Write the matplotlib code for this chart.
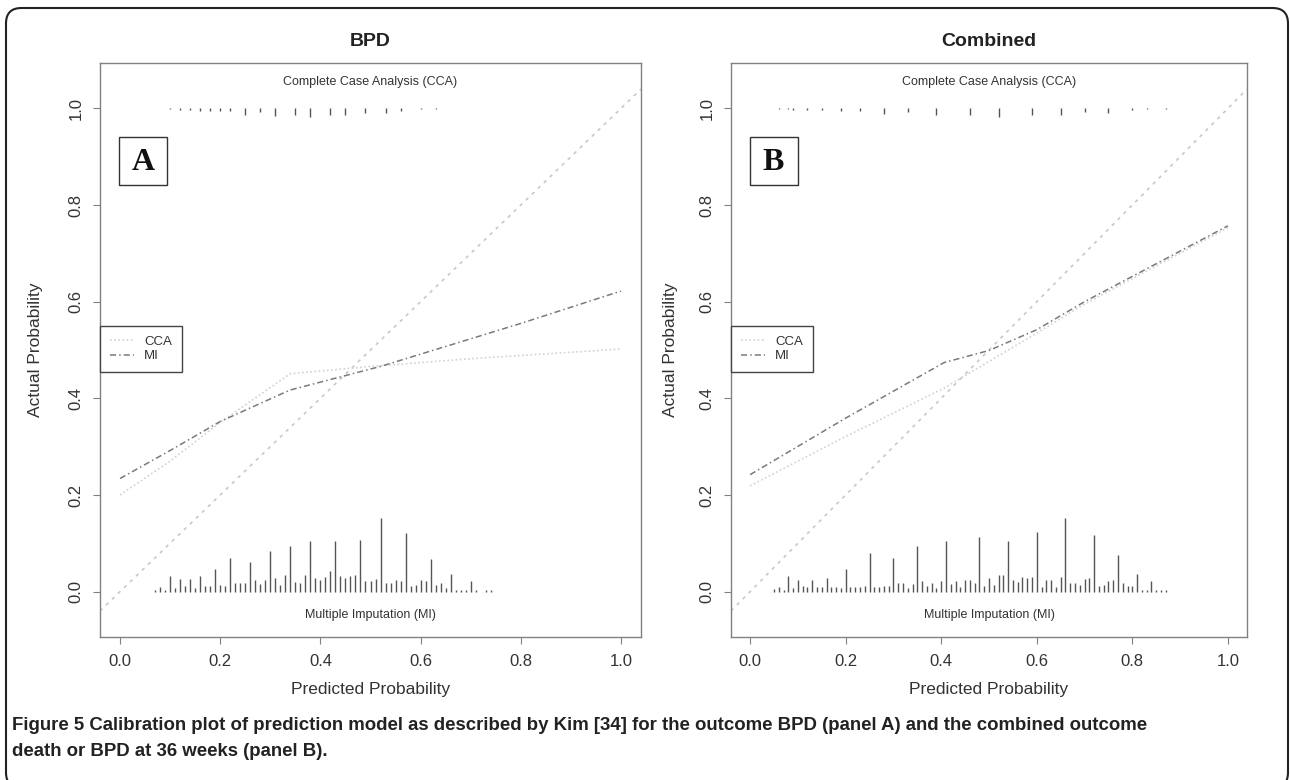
import matplotlib as mpl
import matplotlib.pyplot as plt
from matplotlib.font_manager import fontManager
from matplotlib.patches import FancyBboxPatch, Rectangle

installed = {f.name for f in fontManager.ttflist}
SANS = "Liberation Sans" if "Liberation Sans" in installed else "DejaVu Sans"
SERIF = "Liberation Serif" if "Liberation Serif" in installed else "DejaVu Serif"

mpl.rcParams.update(
    {
        "font.family": [SANS, "DejaVu Sans"],
        "axes.edgecolor": "#808080",
        "axes.linewidth": 1.0,
        "xtick.color": "#808080",
        "ytick.color": "#808080",
        "xtick.labelcolor": "#333333",
        "ytick.labelcolor": "#333333",
        "xtick.major.size": 5,
        "ytick.major.size": 5,
        "xtick.major.pad": 7,
        "ytick.major.pad": 7,
        "xtick.labelsize": 12,
        "ytick.labelsize": 12,
    }
)

# ---- panel A (BPD) ----
a_cca_x = [0.0, 0.10, 0.20, 0.34, 0.50, 0.70, 1.0]
a_cca_y = [0.200, 0.270, 0.350, 0.451, 0.466, 0.482, 0.502]
a_mi_x = [0.0, 0.10, 0.20, 0.339, 0.52, 0.80, 1.0]
a_mi_y = [0.234, 0.292, 0.352, 0.417, 0.466, 0.555, 0.622]

a_mi_spike_x = [0.07, 0.08, 0.09, 0.10, 0.11, 0.12, 0.13, 0.14, 0.15, 0.16,
                0.17, 0.18, 0.19, 0.20, 0.21, 0.22, 0.23, 0.24, 0.25, 0.26,
                0.27, 0.28, 0.29, 0.30, 0.31, 0.32, 0.33, 0.34, 0.35, 0.36,
                0.37, 0.38, 0.39, 0.40, 0.41, 0.42, 0.43, 0.44, 0.45, 0.46,
                0.47, 0.48, 0.49, 0.50, 0.51, 0.52, 0.53, 0.54, 0.55, 0.56,
                0.57, 0.58, 0.59, 0.60, 0.61, 0.62, 0.63, 0.64, 0.65, 0.66,
                0.67, 0.68, 0.69, 0.70, 0.71, 0.73, 0.74]
a_mi_spike_h = [0.004, 0.010, 0.004, 0.033, 0.007, 0.027, 0.011, 0.027, 0.007, 0.033,
                0.011, 0.011, 0.047, 0.014, 0.012, 0.070, 0.017, 0.018, 0.018, 0.062,
                0.023, 0.015, 0.025, 0.083, 0.029, 0.014, 0.034, 0.094, 0.019, 0.018,
                0.034, 0.105, 0.028, 0.023, 0.030, 0.042, 0.105, 0.032, 0.029, 0.033,
                0.034, 0.106, 0.022, 0.022, 0.026, 0.152, 0.017, 0.017, 0.023, 0.022,
                0.121, 0.011, 0.014, 0.023, 0.021, 0.068, 0.014, 0.017, 0.007, 0.037,
                0.004, 0.004, 0.004, 0.021, 0.004, 0.003, 0.003]

a_cca_spike_x = [0.10, 0.12, 0.14, 0.16, 0.18, 0.20, 0.22, 0.25, 0.28, 0.31,
                 0.35, 0.38, 0.42, 0.45, 0.49, 0.53, 0.56, 0.60, 0.63]
a_cca_spike_h = [0.002, 0.003, 0.004, 0.005, 0.005, 0.006, 0.006, 0.013, 0.008, 0.015,
                 0.013, 0.017, 0.013, 0.013, 0.009, 0.009, 0.006, 0.002, 0.002]

# ---- panel B (Combined) ----
b_cca_x = [0.0, 0.20, 0.406, 0.60, 0.70, 1.0]
b_cca_y = [0.219, 0.321, 0.421, 0.535, 0.595, 0.753]
b_mi_x = [0.0, 0.20, 0.406, 0.50, 0.60, 0.70, 1.0]
b_mi_y = [0.242, 0.359, 0.474, 0.499, 0.542, 0.600, 0.757]

b_mi_spike_x = [0.05, 0.06, 0.07, 0.08, 0.09, 0.10, 0.11, 0.12, 0.13, 0.14,
                0.15, 0.16, 0.17, 0.18, 0.19, 0.20, 0.21, 0.22, 0.23, 0.24,
                0.25, 0.26, 0.27, 0.28, 0.29, 0.30, 0.31, 0.32, 0.33, 0.34,
                0.35, 0.36, 0.37, 0.38, 0.39, 0.40, 0.41, 0.42, 0.43, 0.44,
                0.45, 0.46, 0.47, 0.48, 0.49, 0.50, 0.51, 0.52, 0.53, 0.54,
                0.55, 0.56, 0.57, 0.58, 0.59, 0.60, 0.61, 0.62, 0.63, 0.64,
                0.65, 0.66, 0.67, 0.68, 0.69, 0.70, 0.71, 0.72, 0.73, 0.74,
                0.75, 0.76, 0.77, 0.78, 0.79, 0.80, 0.81, 0.82, 0.83, 0.84,
                0.85, 0.86, 0.87]
b_mi_spike_h = [0.006, 0.010, 0.003, 0.033, 0.007, 0.023, 0.011, 0.010, 0.025, 0.010,
                0.010, 0.028, 0.010, 0.010, 0.008, 0.047, 0.010, 0.010, 0.010, 0.011,
                0.080, 0.010, 0.010, 0.012, 0.012, 0.069, 0.018, 0.017, 0.008, 0.015,
                0.094, 0.022, 0.011, 0.017, 0.008, 0.022, 0.105, 0.015, 0.021, 0.010,
                0.025, 0.023, 0.017, 0.114, 0.011, 0.028, 0.014, 0.034, 0.034, 0.105,
                0.023, 0.019, 0.030, 0.028, 0.030, 0.124, 0.010, 0.023, 0.023, 0.010,
                0.030, 0.152, 0.018, 0.017, 0.014, 0.026, 0.029, 0.117, 0.012, 0.014,
                0.021, 0.023, 0.076, 0.017, 0.012, 0.011, 0.036, 0.004, 0.004, 0.022,
                0.003, 0.003, 0.003]

b_cca_spike_x = [0.06, 0.08, 0.09, 0.12, 0.15, 0.19, 0.23, 0.28, 0.33, 0.39,
                 0.46, 0.52, 0.59, 0.65, 0.70, 0.75, 0.80, 0.83, 0.87]
b_cca_spike_h = [0.002, 0.002, 0.003, 0.004, 0.004, 0.006, 0.006, 0.011, 0.008, 0.014,
                 0.013, 0.017, 0.013, 0.013, 0.008, 0.009, 0.004, 0.002, 0.002]

TICKS = [0.0, 0.2, 0.4, 0.6, 0.8, 1.0]
TICK_LABELS = ["0.0", "0.2", "0.4", "0.6", "0.8", "1.0"]

CAPTION_1 = ("Figure 5 Calibration plot of prediction model as described by Kim [34] "
             "for the outcome BPD (panel A) and the combined outcome")
CAPTION_2 = "death or BPD at 36 weeks (panel B)."

DIAG_COLOR = "#c8c8c8"
CCA_COLOR = "#d2d2d2"
MI_COLOR = "#7a7a7a"
SPIKE_COLOR = "#555555"


def draw_panel(ax, title, letter, cca_x, cca_y, mi_x, mi_y,
               mi_sx, mi_sh, cca_sx, cca_sh):
    ax.set_xlim(-0.04, 1.04)
    ax.set_ylim(-0.094, 1.094)
    ax.axline((0, 0), slope=1, color=DIAG_COLOR, lw=1.2, ls=(0, (2, 3)))
    ax.plot(cca_x, cca_y, color=CCA_COLOR, lw=1.2, ls=(0, (1, 1.5)), label="CCA")
    ax.plot(mi_x, mi_y, color=MI_COLOR, lw=1.1, ls=(0, (4, 2, 1, 2)), label="MI")
    ax.vlines(mi_sx, 0, mi_sh, color=SPIKE_COLOR, lw=1.0)
    ax.vlines(cca_sx, [1 - h for h in cca_sh], 1, color=SPIKE_COLOR, lw=1.0)

    ax.text(0.5, 1.054, "Complete Case Analysis (CCA)", ha="center", va="center",
            fontsize=9, color="#333333")
    ax.text(0.5, -0.048, "Multiple Imputation (MI)", ha="center", va="center",
            fontsize=9, color="#333333")

    ax.set_xticks(TICKS, TICK_LABELS)
    ax.set_yticks(TICKS, TICK_LABELS)
    for lab in ax.get_yticklabels():
        lab.set_rotation(90)
        lab.set_va("center")

    ax.set_title(title, fontsize=14, fontweight="bold", color="#222222", pad=12)
    ax.set_xlabel("Predicted Probability", fontsize=12.5, color="#333333")
    ax.set_ylabel("Actual Probability", fontsize=12.5, color="#333333")
    ax.xaxis.set_label_coords(0.5, -0.092)
    ax.xaxis.label.set_va("center")
    ax.yaxis.label.set_va("center")

    # boxed panel letter
    w = 48 / (ax.get_position().width * 1290)
    h = 48 / (ax.get_position().height * 780)
    ax.add_patch(Rectangle((0.036, 0.7875), w, h, transform=ax.transAxes,
                           fill=False, edgecolor="#333333", lw=1.0))
    ax.text(0.036 + w / 2, 0.7875 + h / 2 - 0.002, letter, transform=ax.transAxes,
            ha="center", va="center", fontsize=23, fontweight="bold",
            family=SERIF, color="#111111")

    leg = ax.legend(loc="upper left", bbox_to_anchor=(0.0, 0.542), borderaxespad=0,
                    fancybox=False, edgecolor="#444444", fontsize=9.5,
                    handlelength=1.8, handletextpad=0.8, borderpad=0.75,
                    labelspacing=0.15, framealpha=1)
    leg.get_frame().set_linewidth(1.0)
    for t in leg.get_texts():
        t.set_color("#333333")


fig = plt.figure(figsize=(12.9, 7.8), dpi=100)
ax_a = fig.add_axes([100 / 1290, 1 - 637 / 780, 541 / 1290, 574 / 780])
ax_b = fig.add_axes([731 / 1290, 1 - 637 / 780, 516 / 1290, 574 / 780])

draw_panel(ax_a, "BPD", "A", a_cca_x, a_cca_y, a_mi_x, a_mi_y,
           a_mi_spike_x, a_mi_spike_h, a_cca_spike_x, a_cca_spike_h)
draw_panel(ax_b, "Combined", "B", b_cca_x, b_cca_y, b_mi_x, b_mi_y,
           b_mi_spike_x, b_mi_spike_h, b_cca_spike_x, b_cca_spike_h)
ax_a.yaxis.set_label_coords(-0.12, 0.5)
ax_b.yaxis.set_label_coords(-0.118, 0.5)

# outer rounded frame
frame = FancyBboxPatch((6 / 1290, -8 / 780), 1282 / 1290, 780 / 780,
                       boxstyle="round,pad=0,rounding_size=0.012",
                       transform=fig.transFigure, fill=False,
                       edgecolor="#222222", lw=1.5, mutation_aspect=1290 / 780)
fig.patches.append(frame)

fig.text(12 / 1290, 1 - 725 / 780, CAPTION_1, ha="left", va="center",
         fontsize=13.4, fontweight="bold", color="#222222")
fig.text(12 / 1290, 1 - 752 / 780, CAPTION_2, ha="left", va="center",
         fontsize=13.4, fontweight="bold", color="#222222")

fig.savefig("out.png", dpi=100)
